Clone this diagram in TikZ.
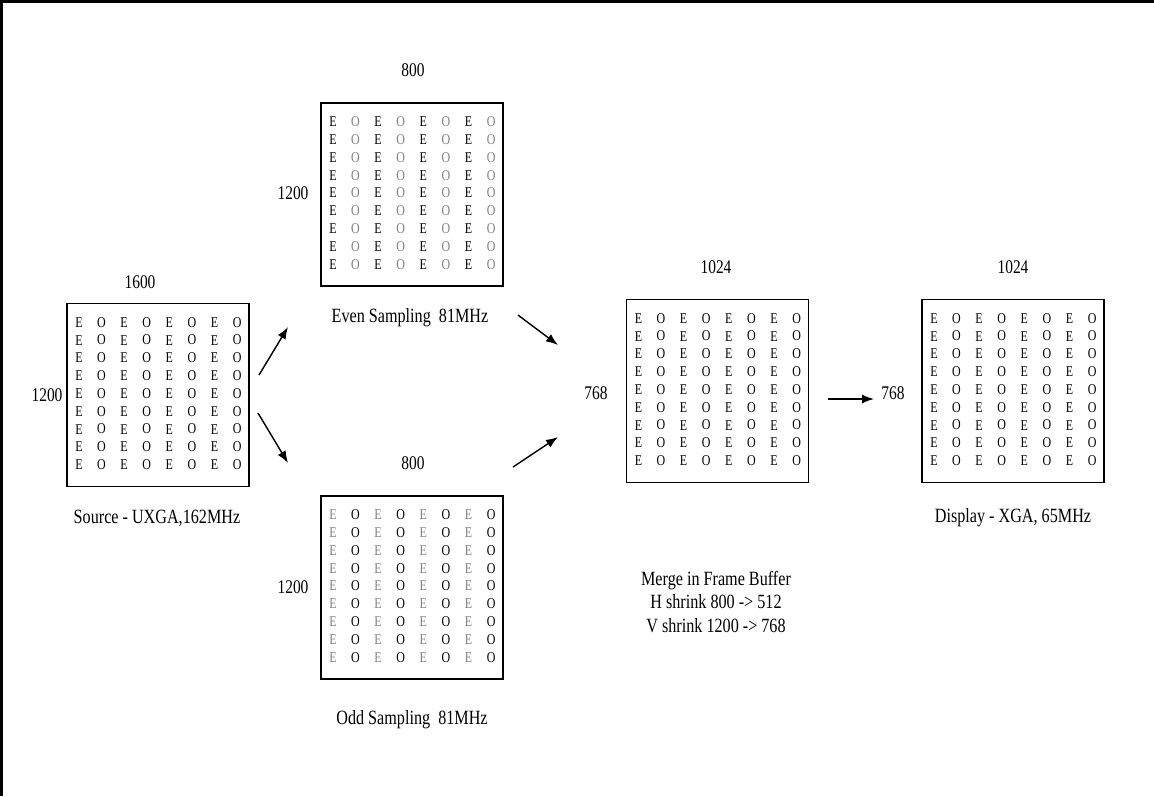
\documentclass[tikz,border=0pt]{standalone}
\usepackage{fontspec}
\setmainfont[FakeStretch=0.8]{Liberation Serif}
\usetikzlibrary{arrows.meta}
\definecolor{faded}{gray}{0.5}

\begin{document}
\begin{tikzpicture}[x=0.02cm,y=-0.02cm,
  pixbox/.style={draw=black,line width=1.1pt,minimum width=3.64cm,minimum height=3.66cm,inner sep=0},
  cell/.style={font=\fontsize{8.5}{9}\selectfont,inner sep=0},
  dim/.style={font=\fontsize{11}{13}\selectfont,inner sep=0},
  note/.style={font=\fontsize{11.5}{13.6}\selectfont,align=center,inner sep=0},
  flow/.style={line width=0.8pt,-{Latex[length=2.4mm,width=1.8mm]}}]
\useasboundingbox (0,0) rectangle (1154,796);
\draw[line width=1.2pt] (1.5,796) -- (1.5,1.5) -- (1154,1.5);

% frames with E/O pixel grids
\foreach \b/\cx/\cy/\ec/\oc in {src/158/395/black/black,
                                even/412/194.5/black/faded,
                                odd/412/587.5/faded/black,
                                merge/717.5/391/black/black,
                                disp/1013/391/black/black}{
  \node[pixbox] (\b) at (\cx,\cy) {};
  \foreach \r in {0,...,8}
    \foreach \p in {0,...,3}{
      \node[cell,text=\ec] (\b-\r-e\p) at ({\cx+(2*\p-3.5)*22.6},{\cy-1.5+(\r-4)*17.8}) {E};
      \node[cell,text=\oc] (\b-\r-o\p) at ({\cx+(2*\p-2.5)*22.6},{\cy-1.5+(\r-4)*17.8}) {O};
    }
}

% sizes
\node[dim] (src-w)   at (140,282)   {1600};
\node[dim] (src-h)   at (47,395)    {1200};
\node[dim] (even-w)  at (413,70)    {800};
\node[dim] (even-h)  at (293,193)   {1200};
\node[dim] (odd-w)   at (413,463)   {800};
\node[dim] (odd-h)   at (293,587)   {1200};
\node[dim] (merge-w) at (716,267)   {1024};
\node[dim] (merge-h) at (596,393)   {768};
\node[dim] (disp-w)  at (1013,267)  {1024};
\node[dim] (disp-h)  at (893,393)   {768};

% captions
\node[note] (src-t)   at (157,518)  {Source - UXGA,162MHz};
\node[note] (even-t)  at (410,318)  {Even Sampling~ 81MHz};
\node[note] (odd-t)   at (412,720)  {Odd Sampling~ 81MHz};
\node[note] (merge-t) at (716,602)  {Merge in Frame Buffer\\H shrink 800 -> 512\\V shrink 1200 -> 768};
\node[note] (disp-t)  at (1013,518) {Display - XGA, 65MHz};

% arrows
\coordinate (up-a)   at (259,375);
\coordinate (up-b)   at (288,327);
\coordinate (dn-a)   at (258,413);
\coordinate (dn-b)   at (288,463);
\coordinate (ev-a)   at (518,315);
\coordinate (ev-b)   at (558,345);
\coordinate (od-a)   at (513,467);
\coordinate (od-b)   at (558,437);
\coordinate (out-a)  at (828,399);
\coordinate (out-b)  at (874,399);
\draw[flow] (up-a) -- (up-b);
\draw[flow] (dn-a) -- (dn-b);
\draw[flow] (ev-a) -- (ev-b);
\draw[flow] (od-a) -- (od-b);
\draw[flow] (out-a) -- (out-b);

\end{tikzpicture}
\end{document}
